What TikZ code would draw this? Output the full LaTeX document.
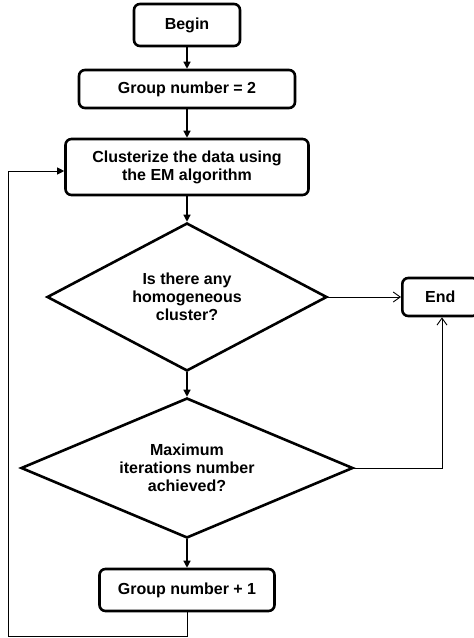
\documentclass[tikz,border=0pt]{standalone}
\usepackage{fontspec}
\setmainfont{Liberation Sans}
\usetikzlibrary{shapes.geometric,arrows.meta}
\begin{document}
\begin{tikzpicture}[x=1pt,y=-1pt,
  every node/.style={font=\fontsize{16}{18}\selectfont\bfseries, align=center, inner sep=0pt},
  procbox/.style={draw, line width=2.6pt, rounded corners=6pt},
  decision/.style={draw, diamond, line width=2.6pt},
  flow/.style={line width=1.3pt, -{Triangle[length=7pt,width=7pt]}},
  back/.style={line width=0.9pt},
  openarrow/.style={line width=0.9pt, -{Straight Barb[length=7pt,width=10pt,line width=0.9pt]}}]
  \useasboundingbox (0,0) rectangle (474,638);
  \fill[white] (0,0) rectangle (474,638);

  % process boxes
  \node[procbox, minimum width=106pt, minimum height=42pt] (begin) at (187,25) {Begin};
  \node[procbox, minimum width=216pt, minimum height=38pt] (g2) at (187,89) {Group number = 2};
  \node[procbox, minimum width=243pt, minimum height=56pt] (clu) at (187,167) {Clusterize the data using\\the EM algorithm};
  \node[procbox, minimum width=175pt, minimum height=42pt] (g1) at (187,590) {Group number + 1};
  \node[procbox, minimum width=76pt, minimum height=38pt, anchor=west] (end) at (401,297) {End};

  % decisions: empty diamonds with the question set on top
  \node[decision, minimum width=280pt, minimum height=148pt] (d1) at (187,297) {};
  \node (q1) at (d1.center) {Is there any\\homogeneous\\cluster?};
  \node[decision, minimum width=332pt, minimum height=140pt] (d2) at (187,468) {};
  \node (q2) at (d2.center) {Maximum\\iterations number\\achieved?};

  \coordinate (bl) at (8,636);
  \coordinate (tl) at (8,171);
  \coordinate (rc) at (442,468);

  \draw[flow] (begin) -- (g2);
  \draw[flow] (g2) -- (clu);
  \draw[flow] (clu) -- (d1.north);
  \draw[flow] (d1.south) -- (d2.north);
  \draw[flow] (d2.south) -- (g1);
  \draw[openarrow] (d1.east) -- (end.west);
  \draw[openarrow] (d2.east) -- (rc) -- (rc |- end.south);
  \draw[back] (g1.south) |- (bl) -- (tl);
  \draw[flow, line width=0.9pt] (tl) -- (tl -| clu.west);
\end{tikzpicture}
\end{document}
